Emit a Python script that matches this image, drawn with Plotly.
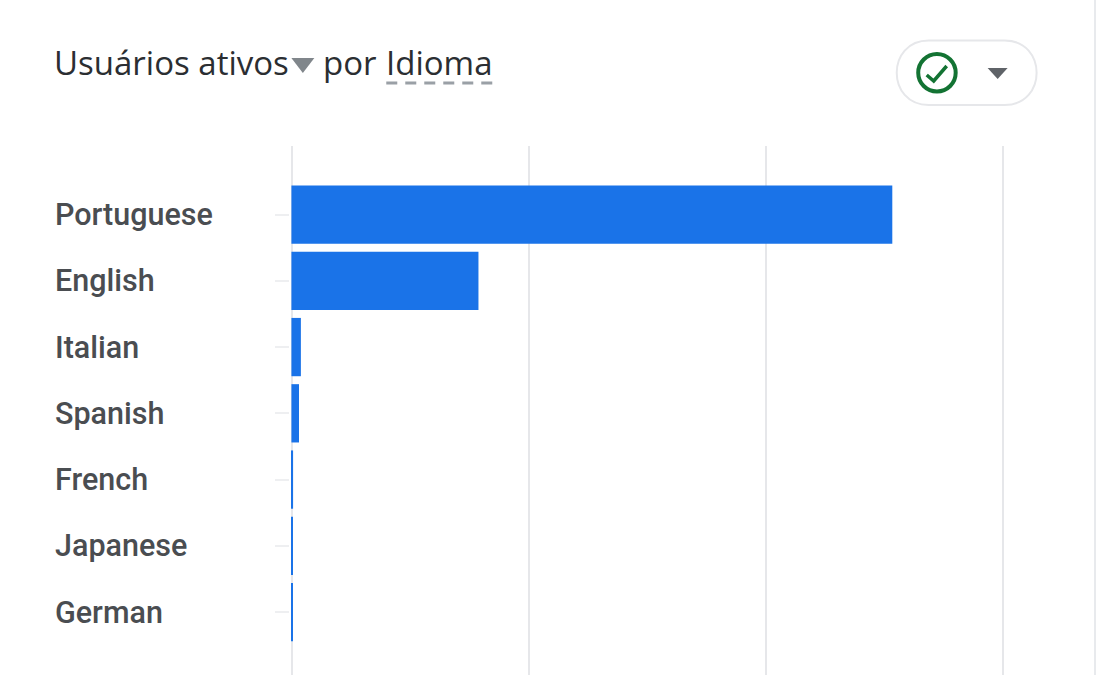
import plotly.graph_objects as go

# values (axis has no labels, so one unit = one gridline step)
idiomas = ['Portuguese', 'English', 'Italian', 'Spanish', 'French', 'Japanese', 'German']
usuarios = [2.538, 0.79, 0.04, 0.032, 0.007, 0.006, 0.005]
eixo_ticks = [0, 1, 2, 3]

W, H = 1102, 675
X0, X3 = 292, 1003  # pixel position of the first and last gridline
FOLGA = 0.01  # range is a bit wider than the ticks, plotly drops gridlines on the edge
PASSO = (X3 - X0) / 3
L, R, T, B = X0 - FOLGA * PASSO, X3 + FOLGA * PASSO, 146, 675
AZUL = '#1a73e8'
CINZA = '#e6e7ea'
TEXTO = '#3c4043'


# pixel position in the page -> paper coordinates
def px(x):
    return (x - L) / (R - L)


def py(y):
    return (B - y) / (B - T)


def path(pontos):
    return 'M ' + ' L '.join(f'{px(x):.5f},{py(y):.5f}' for x, y in pontos) + ' Z'


fig = go.Figure(go.Bar(
    x=usuarios, y=idiomas, orientation='h', width=0.88, base=-0.004,
    marker=dict(color=AZUL, line=dict(width=0)),
))

fig.update_layout(
    width=W, height=H,
    margin=dict(l=L, r=W - R, t=T, b=H - B, pad=0, autoexpand=False),
    paper_bgcolor='white', plot_bgcolor='white',
    showlegend=False,
    font=dict(family='Roboto', color=TEXTO),
    xaxis=dict(range=[-FOLGA, 3 + FOLGA], tickvals=eixo_ticks, showticklabels=False, ticks='',
               showgrid=True, gridcolor=CINZA, gridwidth=2, zeroline=False, showline=False),
    yaxis=dict(categoryorder='array', categoryarray=idiomas, range=[6.95, -1.035],
               ticks='outside', ticklen=14, tickwidth=2, tickcolor='#eeeff1',
               showticklabels=False, showgrid=False, zeroline=False, showline=False),
)

# category labels are left aligned, tick labels can't do that
for idioma in idiomas:
    fig.add_annotation(text=idioma, xref='paper', yref='y', x=px(52), y=idioma,
                       xanchor='left', yanchor='middle', showarrow=False,
                       font=dict(family='Roboto', size=30.5, color='#4a4d51', weight=500))

# title pieces
titulo = [('Usuários ativos', 51), ('por', 321), ('Idioma', 384)]
for texto, x in titulo:
    fig.add_annotation(text=texto, xref='paper', yref='paper', x=px(x), y=py(62),
                       xanchor='left', yanchor='middle', showarrow=False,
                       font=dict(family='Open Sans', size=33, color='#2b2e32', weight=500))

# dashed underline of Idioma, page divider
fig.add_shape(type='line', xref='paper', yref='paper', x0=px(386), x1=px(494), y0=py(83), y1=py(83),
              line=dict(color='#9aa0a6', width=3, dash='11px,8px'))
fig.add_shape(type='line', xref='paper', yref='paper', x0=px(1095.5), x1=px(1095.5), y0=py(0), y1=py(675),
              line=dict(color='#e8eaed', width=2))

# dropdown arrow in the title
fig.add_shape(type='path', xref='paper', yref='paper', path=path([(291, 58), (314, 58), (302.5, 73)]),
              fillcolor='#80868b', line=dict(width=0))

# status pill with check icon
fig.add_shape(type='path', xref='paper', yref='paper',
              path=(f'M {px(929):.5f},{py(40.5):.5f} L {px(1005):.5f},{py(40.5):.5f} '
                    f'C {px(1047.7):.5f},{py(40.5):.5f} {px(1047.7):.5f},{py(105):.5f} {px(1005):.5f},{py(105):.5f} '
                    f'L {px(929):.5f},{py(105):.5f} '
                    f'C {px(886.3):.5f},{py(105):.5f} {px(886.3):.5f},{py(40.5):.5f} {px(929):.5f},{py(40.5):.5f} Z'),
              fillcolor='white', line=dict(color='#e6e7ea', width=2))
fig.add_shape(type='circle', xref='paper', yref='paper', x0=px(918.5), x1=px(956), y0=py(54), y1=py(91.5),
              line=dict(color='#137333', width=4))
fig.add_shape(type='path', xref='paper', yref='paper',
              path='M ' + ' L '.join(f'{px(x):.5f},{py(y):.5f}' for x, y in [(927, 75), (934, 81), (947, 66)]),
              fillcolor='rgba(0,0,0,0)', line=dict(color='#137333', width=3.5))
fig.add_shape(type='path', xref='paper', yref='paper', path=path([(988, 68), (1008, 68), (998, 79)]),
              fillcolor='#5f6368', line=dict(width=0))

fig.write_html('out.html', config=dict(displayModeBar=False),
               post_script="document.body.style.margin='0';")
